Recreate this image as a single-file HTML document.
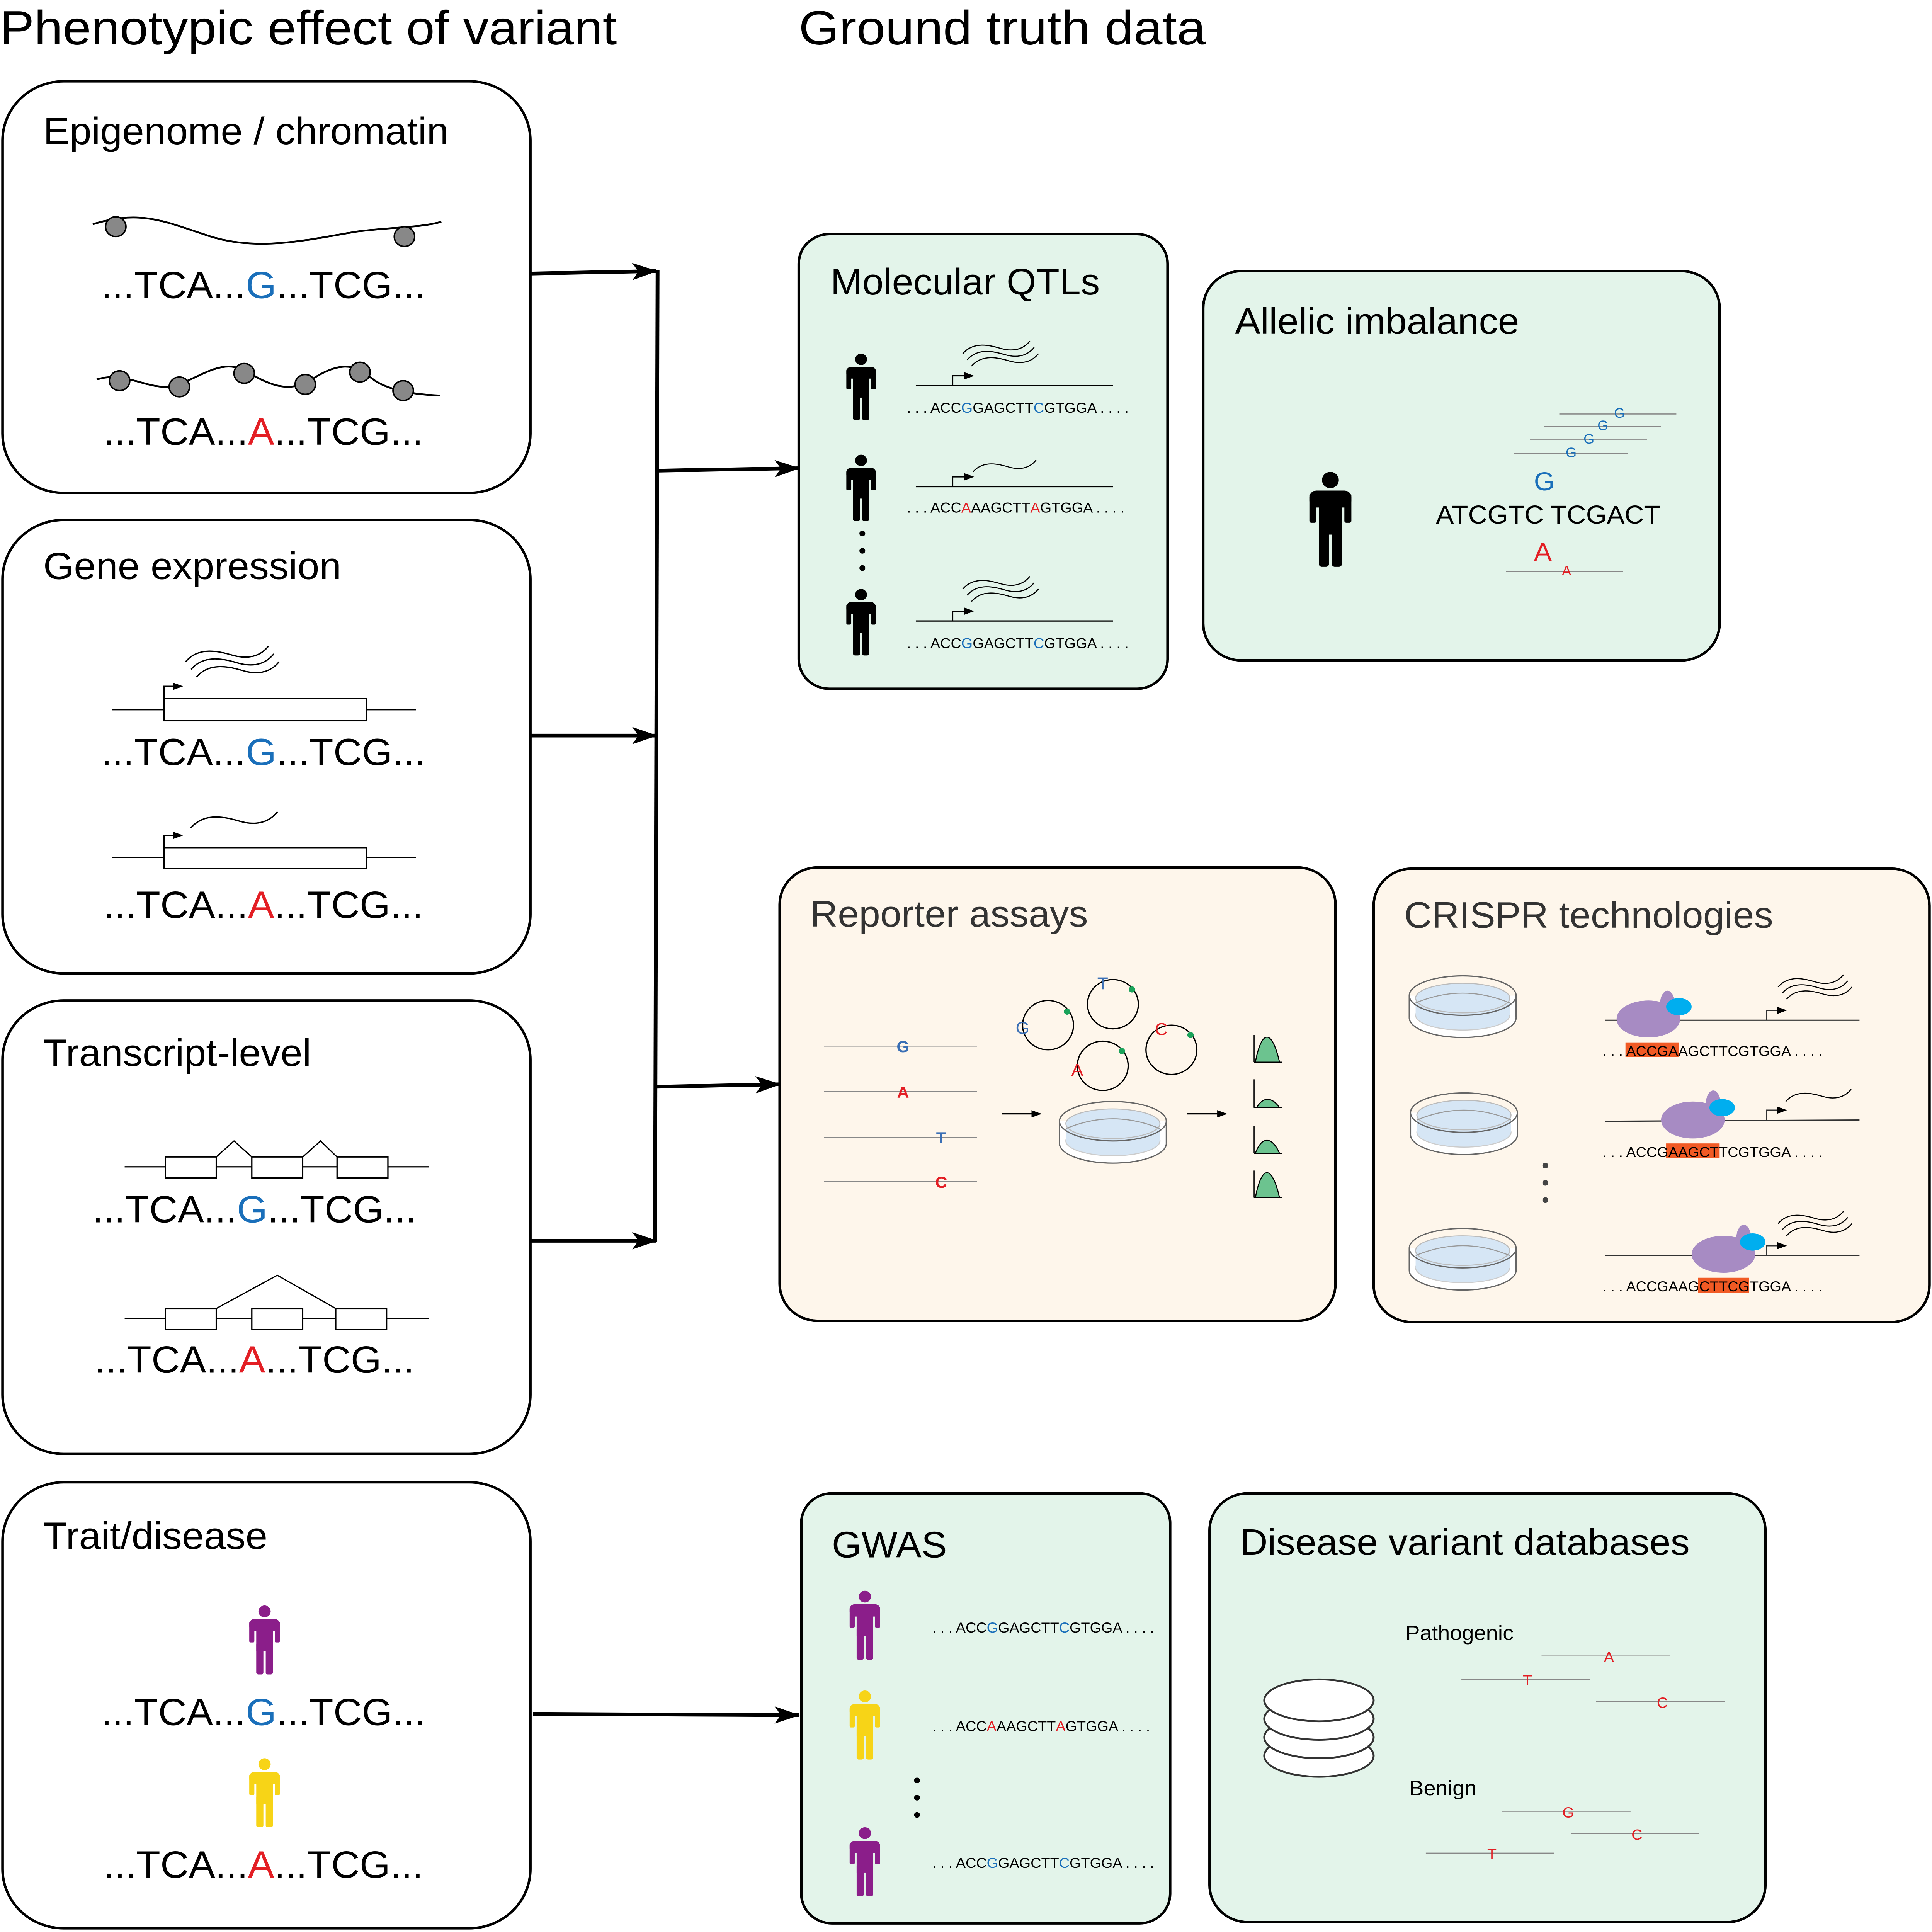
<!DOCTYPE html>
<html><head><meta charset="utf-8"><style>
html,body{margin:0;padding:0;background:#fff;overflow:hidden;width:100vw;height:100vh}
svg{display:block;position:absolute;left:0;top:0;width:100vw;height:100vh}
text{font-family:"Liberation Sans",sans-serif}
</style></head><body>
<svg viewBox="0 0 1519 1568" preserveAspectRatio="none" xmlns="http://www.w3.org/2000/svg">
<defs>
<marker id="big" viewBox="0 0 20 14" markerWidth="20" markerHeight="14" refX="19" refY="7" orient="auto" markerUnits="userSpaceOnUse"><path d="M0,0 L20,7 L0,14 L5,7 Z" fill="#000"/></marker>
<marker id="sm" viewBox="0 0 8 6" markerWidth="8" markerHeight="6" refX="7" refY="3" orient="auto" markerUnits="userSpaceOnUse"><path d="M0,0 L8,3 L0,6 Z" fill="#000"/></marker>
<symbol id="person" viewBox="-13 0 26 56" overflow="visible">
<circle cx="0" cy="4.8" r="4.8"/>
<rect x="-12" y="11" width="24" height="10" rx="4"/>
<rect x="-12" y="13" width="4" height="17" rx="1"/>
<rect x="8" y="13" width="4" height="17" rx="1"/>
<rect x="-6.5" y="13" width="13" height="24"/>
<rect x="-6.5" y="30" width="5.6" height="26" rx="1.5"/>
<rect x="0.9" y="30" width="5.6" height="26" rx="1.5"/>
</symbol>
<g id="dish">
<ellipse cx="0" cy="18" rx="42" ry="16" fill="#fff" stroke="#666" stroke-width="1"/>
<rect x="-42" y="0" width="84" height="18" fill="#fff"/>
<ellipse cx="0" cy="16" rx="37" ry="12" fill="#d6e6f5" stroke="#ccc" stroke-width="0.8"/>
<rect x="-37" y="2" width="74" height="14" fill="#d6e6f5"/>
<line x1="-42" y1="0" x2="-42" y2="18" stroke="#666"/>
<line x1="42" y1="0" x2="42" y2="18" stroke="#666"/>
<ellipse cx="0" cy="0" rx="42" ry="16" fill="none" stroke="#666" stroke-width="1"/>
<ellipse cx="0" cy="2" rx="37" ry="12" fill="#d6e6f5" stroke="#bbb" stroke-width="0.8"/>
<path d="M-37,6 Q0,-10 37,6" fill="none" stroke="#999" stroke-width="0.8"/>
</g>
<g id="waves3" fill="none" stroke="#000" stroke-width="1">
<path d="M0,0 C10,-12 25,-8 35,-5 C45,-2 55,-3 62,-12"/>
<path d="M4,6 C14,-6 29,-2 39,1 C49,4 59,3 66,-6"/>
<path d="M8,12 C18,0 33,4 43,7 C53,10 63,9 70,0"/>
</g>
<g id="wave1" fill="none" stroke="#000" stroke-width="1">
<path d="M0,0 C10,-12 25,-8 35,-5 C45,-2 55,-3 62,-12"/>
</g>
</defs>

<text x="0" y="36" font-size="39" textLength="485" lengthAdjust="spacingAndGlyphs">Phenotypic effect of variant</text>
<text x="628" y="36" font-size="39" textLength="320" lengthAdjust="spacingAndGlyphs">Ground truth data</text>

<g fill="#fff" stroke="#000" stroke-width="2">
<rect x="2" y="66" width="415" height="334" rx="48"/>
<rect x="2" y="422" width="415" height="368" rx="48"/>
<rect x="2" y="812" width="415" height="368" rx="48"/>
<rect x="2" y="1203" width="415" height="362" rx="48"/>
</g>
<g font-size="31">
<text x="34" y="117">Epigenome / chromatin</text>
<text x="34" y="470">Gene expression</text>
<text x="34" y="865">Transcript-level</text>
<text x="34" y="1257">Trait/disease</text>
</g>
<g font-size="31" text-anchor="middle">
<text x="207" y="242">...TCA...<tspan fill="#1a6fba">G</tspan>...TCG...</text>
<text x="207" y="361">...TCA...<tspan fill="#e31e24">A</tspan>...TCG...</text>
<text x="207" y="621">...TCA...<tspan fill="#1a6fba">G</tspan>...TCG...</text>
<text x="207" y="745">...TCA...<tspan fill="#e31e24">A</tspan>...TCG...</text>
<text x="200" y="992">...TCA...<tspan fill="#1a6fba">G</tspan>...TCG...</text>
<text x="200" y="1114">...TCA...<tspan fill="#e31e24">A</tspan>...TCG...</text>
<text x="207" y="1400">...TCA...<tspan fill="#1a6fba">G</tspan>...TCG...</text>
<text x="207" y="1524">...TCA...<tspan fill="#e31e24">A</tspan>...TCG...</text>
</g>

<g stroke="#000" stroke-width="1.5" fill="none">
<path d="M73,182 C110,170 130,180 160,190 C200,205 240,195 280,188 C310,184 330,185 347,180"/>
<path d="M76,308 C100,300 120,320 140,312 C160,305 175,290 195,302 C215,315 230,318 245,308 C260,298 275,292 290,305 C300,315 320,320 346,321"/>
</g>
<g fill="#888" stroke="#000" stroke-width="1.2">
<circle cx="91" cy="184" r="8"/><circle cx="318" cy="192" r="8"/>
<circle cx="94" cy="309" r="8"/><circle cx="141" cy="314" r="8"/><circle cx="192" cy="303" r="8"/><circle cx="240" cy="312" r="8"/><circle cx="283" cy="302" r="8"/><circle cx="317" cy="317" r="8"/>
</g>

<g stroke="#000" stroke-width="1" fill="none">
<line x1="88" y1="576" x2="327" y2="576"/>
<rect x="129" y="567" width="159" height="18" fill="#fff"/>
<path d="M129,567 V557 H143" marker-end="url(#sm)"/>
<line x1="88" y1="696" x2="327" y2="696"/>
<rect x="129" y="688" width="159" height="17" fill="#fff"/>
<path d="M129,688 V678 H143" marker-end="url(#sm)"/>
</g>
<use href="#waves3" transform="translate(146,537) scale(1.05)"/>
<use href="#wave1" transform="translate(150,672) scale(1.1)"/>

<g stroke="#000" stroke-width="1" fill="none">
<line x1="98" y1="947" x2="337" y2="947"/>
<rect x="130" y="939" width="40" height="17" fill="#fff"/>
<rect x="198" y="939" width="40" height="17" fill="#fff"/>
<rect x="265" y="939" width="40" height="17" fill="#fff"/>
<path d="M170,939 L184,926 L198,939 M238,939 L252,926 L265,939"/>
<line x1="98" y1="1070" x2="337" y2="1070"/>
<rect x="130" y="1062" width="40" height="17" fill="#fff"/>
<rect x="198" y="1062" width="40" height="17" fill="#fff"/>
<rect x="264" y="1062" width="40" height="17" fill="#fff"/>
<path d="M170,1062 L218,1035 L264,1062"/>
</g>

<use href="#person" x="195" y="1303" width="26" height="56" fill="#8b1e8a"/>
<use href="#person" x="195" y="1427" width="26" height="56" fill="#f7d417"/>

<g stroke="#000" stroke-width="3" fill="none">
<line x1="417" y1="222" x2="516" y2="220" marker-end="url(#big)"/>
<line x1="417" y1="597" x2="516" y2="597" marker-end="url(#big)"/>
<line x1="417" y1="1007" x2="516" y2="1007" marker-end="url(#big)"/>
<line x1="517" y1="219" x2="515" y2="1008"/>
<line x1="516" y1="382" x2="628" y2="380" marker-end="url(#big)"/>
<line x1="516" y1="882" x2="613" y2="880" marker-end="url(#big)"/>
<line x1="419" y1="1391" x2="628" y2="1392" marker-end="url(#big)"/>
</g>

<g stroke="#000" stroke-width="2">
<rect x="628" y="190" width="290" height="369" rx="24" fill="#e3f4ea"/>
<rect x="946" y="220" width="406" height="316" rx="30" fill="#e3f4ea"/>
<rect x="613" y="704" width="437" height="368" rx="30" fill="#fef6eb"/>
<rect x="1080" y="705" width="437" height="368" rx="30" fill="#fef6eb"/>
<rect x="630" y="1212" width="290" height="349" rx="24" fill="#e3f4ea"/>
<rect x="951" y="1212" width="437" height="348" rx="30" fill="#e3f4ea"/>
</g>
<g font-size="30">
<text x="653" y="239">Molecular QTLs</text>
<text x="971" y="271">Allelic imbalance</text>
<text x="637" y="752" fill="#333">Reporter assays</text>
<text x="1104" y="753" fill="#333">CRISPR technologies</text>
<text x="654" y="1264">GWAS</text>
<text x="975" y="1262">Disease variant databases</text>
</g>

<use href="#person" x="664" y="287" width="26" height="54" fill="#000"/>
<use href="#person" x="664" y="369" width="26" height="54" fill="#000"/>
<use href="#person" x="664" y="478" width="26" height="54" fill="#000"/>
<g fill="#000"><circle cx="678" cy="433" r="2.3"/><circle cx="678" cy="447" r="2.3"/><circle cx="678" cy="461" r="2.3"/></g>
<g stroke="#000" stroke-width="1" fill="none">
<line x1="720" y1="313" x2="875" y2="313"/><path d="M749,313 V305 H765" marker-end="url(#sm)"/>
<line x1="720" y1="395" x2="875" y2="395"/><path d="M749,395 V387 H765" marker-end="url(#sm)"/>
<line x1="720" y1="504" x2="875" y2="504"/><path d="M749,504 V496 H765" marker-end="url(#sm)"/>
</g>
<use href="#waves3" transform="translate(757,287) scale(0.85)"/>
<use href="#wave1" transform="translate(765,383) scale(0.8)"/>
<use href="#waves3" transform="translate(757,478) scale(0.85)"/>
<g font-size="11.5">
<text x="713" y="335">. . . ACC<tspan fill="#1a6fba">G</tspan>GAGCTT<tspan fill="#1a6fba">C</tspan>GTGGA . . . .</text>
<text x="713" y="416">. . . ACC<tspan fill="#e31e24">A</tspan>AAGCTT<tspan fill="#e31e24">A</tspan>GTGGA . . . .</text>
<text x="713" y="526">. . . ACC<tspan fill="#1a6fba">G</tspan>GAGCTT<tspan fill="#1a6fba">C</tspan>GTGGA . . . .</text>
</g>

<use href="#person" x="1028" y="383" width="36" height="77" fill="#000"/>
<text x="1129" y="425" font-size="21">ATCGTC</text>
<text x="1219" y="425" font-size="21">TCGACT</text>
<text x="1206" y="398" font-size="21" fill="#1a6fba">G</text>
<text x="1206" y="455" font-size="21" fill="#e31e24">A</text>
<g stroke="#888" stroke-width="0.8">
<line x1="1226" y1="336" x2="1318" y2="336"/>
<line x1="1214" y1="346" x2="1306" y2="346"/>
<line x1="1203" y1="357" x2="1295" y2="357"/>
<line x1="1190" y1="368" x2="1280" y2="368"/>
<line x1="1184" y1="464" x2="1276" y2="464"/>
</g>
<g font-size="11" fill="#1a6fba"><text x="1269" y="339">G</text><text x="1256" y="349">G</text><text x="1245" y="360">G</text><text x="1231" y="371">G</text></g>
<text x="1228" y="467" font-size="11" fill="#e31e24">A</text>

<g stroke="#888" stroke-width="0.8">
<line x1="648" y1="849" x2="768" y2="849"/>
<line x1="648" y1="886" x2="768" y2="886"/>
<line x1="648" y1="923" x2="768" y2="923"/>
<line x1="648" y1="959" x2="768" y2="959"/>
</g>
<g font-size="13" font-weight="bold" text-anchor="middle">
<text x="710" y="854" fill="#3a6fb5">G</text>
<text x="710" y="891" fill="#e31e24">A</text>
<text x="740" y="928" fill="#3a6fb5">T</text>
<text x="740" y="964" fill="#e31e24">C</text>
</g>
<g stroke="#000" stroke-width="1" fill="none">
<line x1="788" y1="904" x2="818" y2="904" marker-end="url(#sm)"/>
<line x1="933" y1="904" x2="964" y2="904" marker-end="url(#sm)"/>
<circle cx="824" cy="832" r="20"/><circle cx="875" cy="815" r="20"/><circle cx="921" cy="852" r="20"/><circle cx="867" cy="865" r="20"/>
</g>
<g fill="#1aa35a"><circle cx="839" cy="821" r="2.5"/><circle cx="890" cy="803" r="2.5"/><circle cx="936" cy="840" r="2.5"/><circle cx="882" cy="853" r="2.5"/></g>
<g font-size="14" text-anchor="middle">
<text x="804" y="839" fill="#3a6fb5">G</text><text x="867" y="803" fill="#3a6fb5">T</text>
<text x="913" y="840" fill="#e31e24">C</text><text x="847" y="873" fill="#e31e24">A</text>
</g>
<use href="#dish" transform="translate(875,910)"/>
<g fill="#6cc38f" stroke="#000" stroke-width="0.8">
<path d="M986,862 V840 M986,862 H1008 M987,862 C992,835 1000,835 1006,862 Z"/>
<path d="M986,899 V876 M986,899 H1008 M988,899 C993,890 1000,890 1006,899 Z"/>
<path d="M986,936 V914 M986,936 H1008 M987,936 C992,922 1000,922 1006,936 Z"/>
<path d="M986,972 V950 M986,972 H1008 M987,972 C992,945 1000,945 1006,972 Z"/>
</g>

<use href="#dish" transform="translate(1150,808)"/>
<use href="#dish" transform="translate(1151,903)"/>
<use href="#dish" transform="translate(1150,1013)"/>
<g fill="#444"><circle cx="1215" cy="946" r="2.3"/><circle cx="1215" cy="960" r="2.3"/><circle cx="1215" cy="974" r="2.3"/></g>
<g stroke="#333" stroke-width="1" fill="none">
<line x1="1262" y1="828" x2="1462" y2="828"/><path d="M1389,828 V820 H1404" marker-end="url(#sm)"/>
<line x1="1262" y1="910" x2="1462" y2="909"/><path d="M1389,909 V901 H1404" marker-end="url(#sm)"/>
<line x1="1262" y1="1019" x2="1462" y2="1019"/><path d="M1389,1019 V1011 H1404" marker-end="url(#sm)"/>
</g>
<use href="#waves3" transform="translate(1398,801) scale(0.83)"/>
<use href="#wave1" transform="translate(1404,894) scale(0.83)"/>
<use href="#waves3" transform="translate(1398,993) scale(0.83)"/>
<g fill="#a78bc3">
<ellipse cx="1296" cy="827" rx="25" ry="15"/><ellipse cx="1311" cy="816" rx="6" ry="12"/>
<ellipse cx="1331" cy="909" rx="25" ry="15"/><ellipse cx="1347" cy="897" rx="6" ry="12"/>
<ellipse cx="1355" cy="1018" rx="25" ry="15"/><ellipse cx="1371" cy="1006" rx="6" ry="12"/>
</g>
<g fill="#00aeef">
<ellipse cx="1320" cy="817" rx="10" ry="7"/>
<ellipse cx="1354" cy="899" rx="10" ry="7"/>
<ellipse cx="1378" cy="1008" rx="10" ry="7"/>
</g>
<rect x="1278" y="846" width="42" height="12" fill="#f15a24"/>
<rect x="1310" y="928" width="42" height="12" fill="#f15a24"/>
<rect x="1335" y="1037" width="40" height="12" fill="#f15a24"/>
<g font-size="11.5">
<text x="1260" y="857">. . . ACCGAAGCTTCGTGGA . . . .</text>
<text x="1260" y="939">. . . ACCGAAGCTTCGTGGA . . . .</text>
<text x="1260" y="1048">. . . ACCGAAGCTTCGTGGA . . . .</text>
</g>

<use href="#person" x="667" y="1290" width="26" height="58" fill="#8b1e8a"/>
<use href="#person" x="667" y="1371" width="26" height="58" fill="#f7d417"/>
<use href="#person" x="667" y="1482" width="26" height="58" fill="#8b1e8a"/>
<g fill="#000"><circle cx="721" cy="1445" r="2.3"/><circle cx="721" cy="1459" r="2.3"/><circle cx="721" cy="1473" r="2.3"/></g>
<g font-size="11.5">
<text x="733" y="1325">. . . ACC<tspan fill="#1a6fba">G</tspan>GAGCTT<tspan fill="#1a6fba">C</tspan>GTGGA . . . .</text>
<text x="733" y="1405">. . . ACC<tspan fill="#e31e24">A</tspan>AAGCTT<tspan fill="#e31e24">A</tspan>GTGGA . . . .</text>
<text x="733" y="1516">. . . ACC<tspan fill="#1a6fba">G</tspan>GAGCTT<tspan fill="#1a6fba">C</tspan>GTGGA . . . .</text>
</g>

<g fill="#fff" stroke="#333" stroke-width="1.5">
<ellipse cx="1037" cy="1425" rx="43" ry="17"/>
<ellipse cx="1037" cy="1410" rx="43" ry="17"/>
<ellipse cx="1037" cy="1395" rx="43" ry="17"/>
<ellipse cx="1037" cy="1380" rx="43" ry="17"/>
</g>
<text x="1105" y="1331" font-size="17">Pathogenic</text>
<text x="1108" y="1457" font-size="17">Benign</text>
<g stroke="#888" stroke-width="0.8">
<line x1="1212" y1="1344" x2="1313" y2="1344"/>
<line x1="1149" y1="1363" x2="1250" y2="1363"/>
<line x1="1255" y1="1381" x2="1356" y2="1381"/>
<line x1="1181" y1="1470" x2="1282" y2="1470"/>
<line x1="1235" y1="1488" x2="1336" y2="1488"/>
<line x1="1121" y1="1504" x2="1222" y2="1504"/>
</g>
<g font-size="12" fill="#e31e24" text-anchor="middle">
<text x="1265" y="1349">A</text><text x="1201" y="1368">T</text><text x="1307" y="1386">C</text>
<text x="1233" y="1475">G</text><text x="1287" y="1493">C</text><text x="1173" y="1509">T</text>
</g>
</svg>
</body></html>
